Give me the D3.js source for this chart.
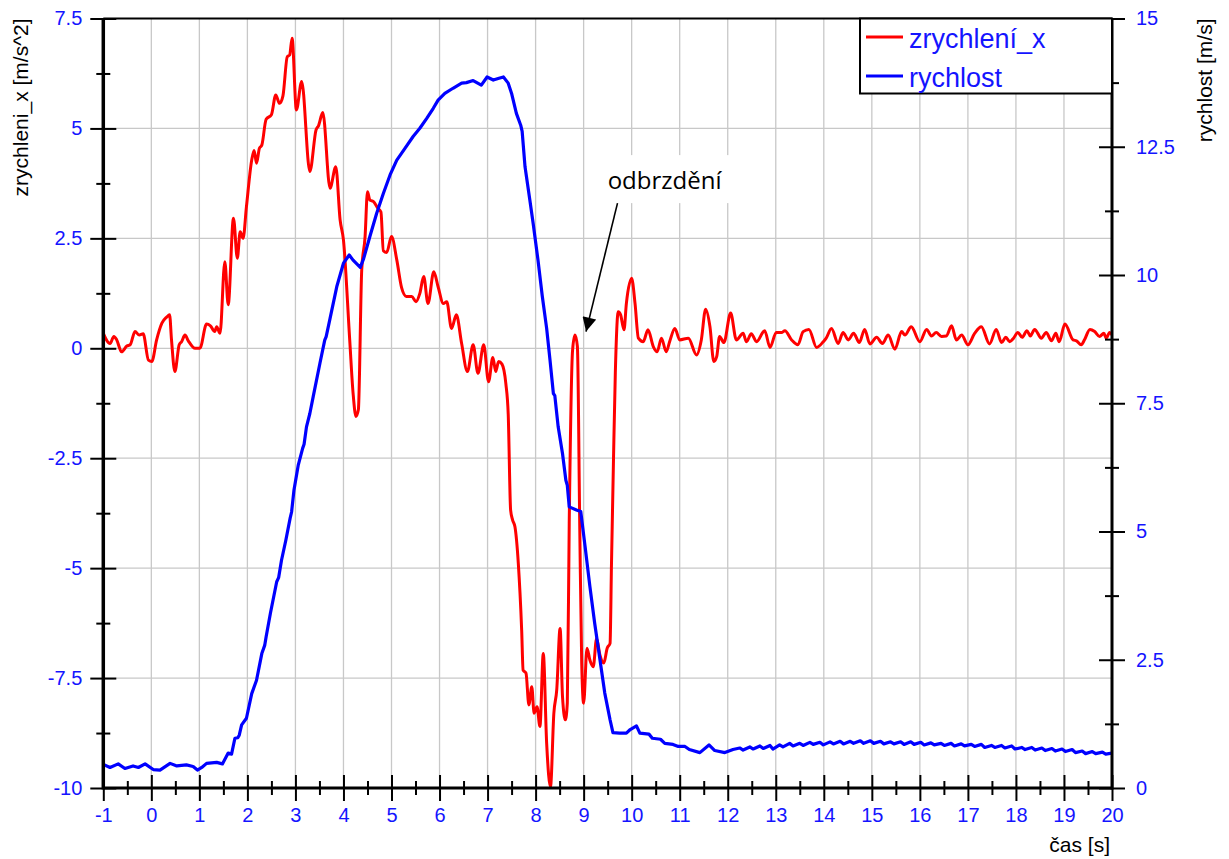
<!DOCTYPE html>
<html>
<head>
<meta charset="utf-8">
<script src="https://cdn.jsdelivr.net/npm/d3@7"></script>
<style>
  body { margin: 0; background: #fff; }
  svg { display: block; font-family: "Liberation Sans", Arial, sans-serif; }
</style>
</head>
<body>
<svg id="chart" width="1229" height="859"></svg>
<script>
// acceleration in x [m/s^2] vs time [s]
const accel = [
  [-1.0, 0.34], [-0.86, 0.11], [-0.78, 0.27], [-0.72, 0.19], [-0.62, -0.08], [-0.51, 0.05],
  [-0.44, 0.08], [-0.34, 0.38], [-0.25, 0.30], [-0.17, 0.33], [-0.06, -0.27], [0.01, -0.30],
  [0.11, 0.19], [0.22, 0.57], [0.32, 0.71], [0.38, 0.76], [0.42, 0.19], [0.49, -0.53],
  [0.58, 0.08], [0.63, 0.15], [0.70, 0.30], [0.77, 0.17], [0.91, 0.0], [1.01, 0.0],
  [1.15, 0.55], [1.23, 0.51], [1.32, 0.38], [1.36, 0.49], [1.43, 0.34], [1.53, 1.97],
  [1.60, 0.99], [1.71, 2.96], [1.79, 2.05], [1.85, 2.65], [1.91, 2.50], [1.98, 3.22],
  [2.09, 4.28], [2.14, 4.50], [2.19, 4.21], [2.25, 4.55], [2.30, 4.62], [2.39, 5.21],
  [2.50, 5.31], [2.59, 5.76], [2.67, 5.57], [2.74, 5.74], [2.83, 6.63], [2.88, 6.67],
  [2.93, 7.05], [3.02, 5.42], [3.13, 6.07], [3.30, 4.02], [3.43, 4.97], [3.48, 5.06],
  [3.57, 5.36], [3.72, 3.64], [3.84, 4.13], [3.93, 2.92], [4.00, 2.46], [4.13, 0.19],
  [4.20, -1.02], [4.26, -1.55], [4.31, -1.40], [4.38, 1.78], [4.45, 2.54], [4.50, 3.56],
  [4.55, 3.37], [4.62, 3.34], [4.72, 3.18], [4.78, 3.10], [4.83, 2.22], [4.90, 2.18],
  [5.00, 2.54], [5.11, 2.01], [5.21, 1.38], [5.31, 1.18], [5.42, 1.18], [5.51, 1.06],
  [5.59, 1.25], [5.67, 1.63], [5.76, 1.02], [5.88, 1.74], [5.97, 1.40], [6.08, 1.02],
  [6.15, 1.06], [6.25, 0.45], [6.35, 0.76], [6.46, 0.11], [6.58, -0.53], [6.70, 0.08],
  [6.80, -0.57], [6.92, 0.08], [7.02, -0.76], [7.11, -0.21], [7.17, -0.53], [7.23, -0.30],
  [7.30, -0.36], [7.38, -0.80], [7.43, -1.50], [7.48, -3.68], [7.52, -3.90], [7.57, -4.06],
  [7.64, -4.89], [7.71, -6.41], [7.74, -7.32], [7.80, -7.39], [7.86, -8.11], [7.92, -7.70],
  [7.97, -8.30], [8.03, -8.15], [8.09, -8.60], [8.16, -6.94], [8.23, -8.98], [8.31, -9.97],
  [8.38, -8.30], [8.44, -7.77], [8.51, -6.37], [8.56, -7.92], [8.62, -8.45], [8.66, -8.07],
  [8.70, -3.98], [8.77, -0.04], [8.82, 0.30], [8.87, 0.04], [8.92, -4.13], [8.96, -7.16],
  [9.00, -8.07], [9.07, -6.82], [9.13, -7.09], [9.20, -7.24], [9.27, -6.60], [9.34, -6.98],
  [9.42, -7.16], [9.49, -6.82], [9.55, -6.71], [9.58, -4.89], [9.62, -2.62], [9.66, -0.55],
  [9.72, 0.83], [9.77, 0.76], [9.84, 0.42], [9.89, 1.02], [10.0, 1.59], [10.07, 1.02],
  [10.14, 0.23], [10.24, 0.15], [10.34, 0.42], [10.45, 0.04], [10.53, -0.08], [10.62, 0.23],
  [10.72, -0.08], [10.79, 0.15], [10.90, 0.45], [11.0, 0.19], [11.18, 0.23], [11.35, -0.15],
  [11.45, 0.19], [11.54, 0.89], [11.63, 0.49], [11.71, -0.30], [11.77, -0.19], [11.83, 0.27],
  [11.92, 0.13], [12.06, 0.80], [12.18, 0.19], [12.32, 0.34], [12.39, 0.15], [12.49, 0.33],
  [12.60, 0.15], [12.77, 0.40], [12.88, 0.02], [13.01, 0.36], [13.12, 0.36], [13.19, 0.40],
  [13.33, 0.19], [13.46, 0.08], [13.57, 0.38], [13.69, 0.43], [13.85, 0.02], [13.99, 0.15],
  [14.05, 0.23], [14.16, 0.45], [14.30, 0.11], [14.40, 0.36], [14.51, 0.19], [14.62, 0.34],
  [14.74, 0.13], [14.85, 0.43], [14.96, 0.10], [15.10, 0.25], [15.22, 0.11], [15.34, 0.30],
  [15.48, -0.02], [15.62, 0.38], [15.69, 0.30], [15.82, 0.49], [16.0, 0.15], [16.14, 0.43],
  [16.24, 0.28], [16.34, 0.36], [16.45, 0.27], [16.55, 0.28], [16.66, 0.51], [16.76, 0.19],
  [16.87, 0.30], [17.0, 0.08], [17.14, 0.34], [17.28, 0.49], [17.45, 0.10], [17.59, 0.43],
  [17.70, 0.13], [17.79, 0.25], [17.87, 0.15], [17.95, 0.23], [18.04, 0.36], [18.13, 0.25],
  [18.23, 0.40], [18.30, 0.28], [18.39, 0.43], [18.53, 0.23], [18.63, 0.36], [18.74, 0.17],
  [18.83, 0.34], [18.90, 0.15], [19.02, 0.55], [19.19, 0.19], [19.26, 0.17], [19.36, 0.08],
  [19.43, 0.20], [19.54, 0.43], [19.64, 0.38], [19.74, 0.27], [19.83, 0.34], [19.88, 0.23],
  [19.95, 0.36], [20.0, 0.30]
];

// speed [m/s] vs time [s]
const speed = [
  [-1.0, 0.46], [-0.86, 0.40], [-0.69, 0.47], [-0.55, 0.38], [-0.38, 0.43], [-0.27, 0.40],
  [-0.13, 0.47], [0.04, 0.36], [0.18, 0.35], [0.39, 0.48], [0.53, 0.43], [0.73, 0.45],
  [0.87, 0.42], [0.96, 0.35], [1.05, 0.40], [1.15, 0.48], [1.36, 0.50], [1.48, 0.47],
  [1.60, 0.68], [1.67, 0.66], [1.74, 0.97], [1.80, 0.98], [1.83, 1.03], [1.88, 1.23], [1.98, 1.36],
  [2.09, 1.84], [2.19, 2.10], [2.30, 2.62], [2.36, 2.78], [2.39, 2.95], [2.48, 3.41], [2.61, 4.02],
  [2.65, 4.10], [2.71, 4.44], [2.80, 4.83], [2.89, 5.26], [2.92, 5.38], [2.97, 5.81], [3.06, 6.30],
  [3.15, 6.62], [3.18, 6.70], [3.23, 7.04], [3.30, 7.30], [3.37, 7.63], [3.51, 8.28], [3.61, 8.73],
  [3.64, 8.80], [3.72, 9.15], [3.86, 9.77], [4.00, 10.23], [4.12, 10.39], [4.20, 10.29],
  [4.35, 10.15], [4.42, 10.32], [4.55, 10.75], [4.69, 11.20], [4.83, 11.59], [4.97, 11.95],
  [5.11, 12.24], [5.28, 12.47], [5.45, 12.70], [5.59, 12.86], [5.73, 13.05], [5.87, 13.25],
  [5.97, 13.41], [6.11, 13.54], [6.28, 13.64], [6.46, 13.74], [6.56, 13.75], [6.70, 13.79],
  [6.87, 13.70], [6.99, 13.86], [7.12, 13.80], [7.22, 13.83], [7.33, 13.86], [7.43, 13.74],
  [7.50, 13.54], [7.60, 13.15], [7.69, 12.92], [7.72, 12.80], [7.78, 12.11], [7.88, 11.46],
  [7.95, 11.00], [8.05, 10.29], [8.14, 9.58], [8.23, 8.96], [8.30, 8.34], [8.37, 7.69],
  [8.40, 7.65], [8.47, 7.04], [8.56, 6.52], [8.63, 6.00], [8.66, 5.90], [8.70, 5.48],
  [8.85, 5.42], [8.94, 5.39], [9.03, 4.71], [9.13, 3.93], [9.23, 3.21], [9.34, 2.50],
  [9.44, 1.85], [9.55, 1.33], [9.61, 1.08], [9.75, 1.07], [9.89, 1.07],
  [9.97, 1.14], [10.10, 1.21], [10.17, 1.07], [10.36, 1.05], [10.43, 0.97], [10.60, 0.95],
  [10.69, 0.87], [10.86, 0.85], [10.97, 0.81], [11.11, 0.81], [11.20, 0.75], [11.42, 0.69],
  [11.61, 0.84], [11.73, 0.73], [11.94, 0.69], [12.11, 0.75], [12.25, 0.78], [12.32, 0.74],
  [12.46, 0.80], [12.53, 0.76], [12.67, 0.82], [12.74, 0.77], [12.88, 0.83], [12.94, 0.76],
  [13.08, 0.84], [13.15, 0.80], [13.29, 0.87], [13.36, 0.82], [13.50, 0.87], [13.57, 0.83],
  [13.71, 0.89], [13.78, 0.85], [13.92, 0.89], [13.99, 0.84], [14.13, 0.90], [14.20, 0.86],
  [14.34, 0.91], [14.41, 0.86], [14.55, 0.91], [14.62, 0.87], [14.76, 0.92], [14.83, 0.87],
  [14.97, 0.92], [15.04, 0.87], [15.18, 0.91], [15.25, 0.86], [15.39, 0.90], [15.46, 0.86],
  [15.60, 0.90], [15.67, 0.85], [15.81, 0.90], [15.88, 0.85], [16.02, 0.89], [16.09, 0.84],
  [16.23, 0.88], [16.30, 0.84], [16.44, 0.87], [16.51, 0.83], [16.65, 0.87], [16.72, 0.82],
  [16.86, 0.86], [16.93, 0.82], [17.07, 0.85], [17.14, 0.81], [17.28, 0.85], [17.35, 0.79],
  [17.49, 0.83], [17.56, 0.79], [17.70, 0.83], [17.77, 0.78], [17.91, 0.82], [17.98, 0.76],
  [18.12, 0.79], [18.19, 0.75], [18.33, 0.79], [18.40, 0.74], [18.54, 0.78], [18.61, 0.73],
  [18.75, 0.77], [18.82, 0.72], [18.96, 0.76], [19.03, 0.71], [19.17, 0.75], [19.24, 0.69],
  [19.38, 0.72], [19.45, 0.67], [19.59, 0.71], [19.66, 0.67], [19.80, 0.70], [19.87, 0.66],
  [20.0, 0.68]
];

// tick values
const timeTicks = d3.range(-1, 21, 1);
const accTicks = [-10, -7.5, -5, -2.5, 0, 2.5, 5, 7.5];
const speedTicks = [0, 2.5, 5, 7.5, 10, 12.5, 15];

const seriesNames = ["zrychlení_x", "rychlost"];
const note = { text: "odbrzdění", tip: [9.05, 0.38], tail: [9.705, 3.30], at: [9.50, 3.62] };

const W = 1229, H = 859;
const margin = { top: 18.5, right: 117, bottom: 71, left: 103.3 };
const RED = "#ff0000", BLUE = "#0000ff", LABEL = "#1414ff";

const svg = d3.select("#chart");

const x = d3.scaleLinear().domain([-1, 20]).range([margin.left, W - margin.right]);
const yAcc = d3.scaleLinear().domain([-10, 7.5]).range([H - margin.bottom, margin.top]);
const ySpd = d3.scaleLinear().domain([0, 15]).range([H - margin.bottom, margin.top]);

const x0 = x.range()[0], x1 = x.range()[1];
const y0 = yAcc.range()[0], y1 = yAcc.range()[1];

// grid
svg.append("g")
    .selectAll("line")
    .data(timeTicks.filter(d => d > -1 && d < 20))
    .enter().append("line")
    .attr("x1", d => x(d)).attr("x2", d => x(d))
    .attr("y1", y1).attr("y2", y0)
    .attr("stroke", "#c8c8c8").attr("stroke-width", 1.3);

svg.append("g")
    .selectAll("line")
    .data(accTicks.filter(d => d > -10 && d < 7.5))
    .enter().append("line")
    .attr("x1", x0).attr("x2", x1)
    .attr("y1", d => yAcc(d)).attr("y2", d => yAcc(d))
    .attr("stroke", "#c8c8c8").attr("stroke-width", 1.3);

// annotation background (hides the grid behind the text)
svg.append("rect")
    .attr("x", x(note.at[0]) - 18).attr("y", yAcc(note.at[1]) - 34)
    .attr("width", 145).attr("height", 48)
    .attr("fill", "#fff");

// lines
svg.append("clipPath").attr("id", "plot")
  .append("rect").attr("x", x0).attr("y", y1 - 2).attr("width", x1 - x0).attr("height", y0 - y1 + 4);

const accLine = d3.line()
    .x(d => x(d[0]))
    .y(d => yAcc(d[1]))
    .curve(d3.curveMonotoneX);

const spdLine = d3.line()
    .x(d => x(d[0]))
    .y(d => ySpd(d[1]));

svg.append("path")
    .datum(accel)
    .attr("clip-path", "url(#plot)")
    .attr("d", accLine)
    .attr("fill", "none").attr("stroke", RED).attr("stroke-width", 3)
    .attr("stroke-linejoin", "round");

svg.append("path")
    .datum(speed)
    .attr("clip-path", "url(#plot)")
    .attr("d", spdLine)
    .attr("fill", "none").attr("stroke", BLUE).attr("stroke-width", 3.2)
    .attr("stroke-linejoin", "round");

// axes: ticks cross the axis line
function styleAxis(g, major, vertical) {
    const len = major ? 13 : 7;
    g.attr("font-family", null).attr("font-size", 20);
    g.select(".domain").remove();
    g.selectAll(".tick line")
        .attr(vertical ? "x1" : "y1", -len)
        .attr(vertical ? "x2" : "y2", len)
        .attr("stroke", "#000").attr("stroke-width", 2);
    g.selectAll(".tick text").attr("fill", LABEL);
}

const halfSteps = (lo, hi, step) => d3.range(lo + step / 2, hi, step);

// left
svg.append("g").attr("transform", `translate(${x0},0)`)
    .call(d3.axisLeft(yAcc).tickValues(accTicks).tickFormat(d => String(d)).tickSize(0).tickPadding(21))
    .call(g => styleAxis(g, true, true));
svg.append("g").attr("transform", `translate(${x0},0)`)
    .call(d3.axisLeft(yAcc).tickValues(halfSteps(-10, 7.5, 2.5)).tickFormat("").tickSize(0))
    .call(g => styleAxis(g, false, true));

// right
svg.append("g").attr("transform", `translate(${x1},0)`)
    .call(d3.axisRight(ySpd).tickValues(speedTicks).tickFormat(d => String(d)).tickSize(0).tickPadding(24))
    .call(g => styleAxis(g, true, true));
svg.append("g").attr("transform", `translate(${x1},0)`)
    .call(d3.axisRight(ySpd).tickValues(halfSteps(0, 15, 2.5)).tickFormat("").tickSize(0))
    .call(g => styleAxis(g, false, true));

// bottom
svg.append("g").attr("transform", `translate(0,${y0})`)
    .call(d3.axisBottom(x).tickValues(timeTicks).tickFormat(d => String(d)).tickSize(0).tickPadding(20))
    .call(g => styleAxis(g, true, false));
svg.append("g").attr("transform", `translate(0,${y0})`)
    .call(d3.axisBottom(x).tickValues(halfSteps(-1, 20, 1)).tickFormat("").tickSize(0))
    .call(g => styleAxis(g, false, false));

// frame lines
svg.append("line").attr("x1", x0).attr("x2", x1).attr("y1", y1).attr("y2", y1)
    .attr("stroke", "#000").attr("stroke-width", 2);
svg.append("line").attr("x1", x0).attr("x2", x0).attr("y1", y1).attr("y2", y0 + 1.5)
    .attr("stroke", "#000").attr("stroke-width", 3.5);
svg.append("line").attr("x1", x1).attr("x2", x1).attr("y1", y1).attr("y2", y0 + 1.5)
    .attr("stroke", "#000").attr("stroke-width", 3);
svg.append("line").attr("x1", x0).attr("x2", x1).attr("y1", y0).attr("y2", y0)
    .attr("stroke", "#000").attr("stroke-width", 3);

// axis titles
svg.append("text")
    .attr("transform", `translate(28,${y1}) rotate(-90)`)
    .attr("text-anchor", "end").attr("font-size", 21).attr("fill", "#000")
    .text("zrychleni_x [m/s^2]");
svg.append("text")
    .attr("transform", `translate(1212,${y1}) rotate(-90)`)
    .attr("text-anchor", "end").attr("font-size", 21).attr("fill", "#000")
    .text("rychlost [m/s]");
svg.append("text")
    .attr("x", 1110).attr("y", 852)
    .attr("text-anchor", "end").attr("font-size", 21).attr("fill", "#000")
    .text("čas [s]");

// annotation
svg.append("defs").append("marker")
    .attr("id", "arrow")
    .attr("viewBox", "0 0 10 10").attr("refX", 10).attr("refY", 5)
    .attr("markerUnits", "userSpaceOnUse")
    .attr("markerWidth", 17).attr("markerHeight", 14)
    .attr("orient", "auto")
  .append("path").attr("d", "M0,0L10,5L0,10z").attr("fill", "#000");

svg.append("line")
    .attr("x1", x(note.tail[0])).attr("y1", yAcc(note.tail[1]))
    .attr("x2", x(note.tip[0])).attr("y2", yAcc(note.tip[1]))
    .attr("stroke", "#000").attr("stroke-width", 1.6)
    .attr("marker-end", "url(#arrow)");

svg.append("text")
    .attr("x", x(note.at[0])).attr("y", yAcc(note.at[1]))
    .attr("font-family", "'Open Sans', 'DejaVu Sans', sans-serif")
    .attr("font-size", 24).attr("fill", "#000")
    .text(note.text);

// legend
const legend = svg.append("g");
legend.append("rect")
    .attr("x", 860).attr("y", y1).attr("width", x1 - 860).attr("height", 75)
    .attr("fill", "#fff").attr("stroke", "#000").attr("stroke-width", 2);

const items = legend.selectAll(".item")
    .data(seriesNames)
    .enter().append("g")
    .attr("transform", (d, i) => `translate(866,${37 + i * 39})`);
items.append("line")
    .attr("x1", 0).attr("x2", 37)
    .attr("stroke", (d, i) => i === 0 ? RED : BLUE).attr("stroke-width", 3);
items.append("text")
    .attr("x", 43).attr("y", 11)
    .attr("font-size", 27).attr("fill", LABEL)
    .text(d => d);
</script>
</body>
</html>
